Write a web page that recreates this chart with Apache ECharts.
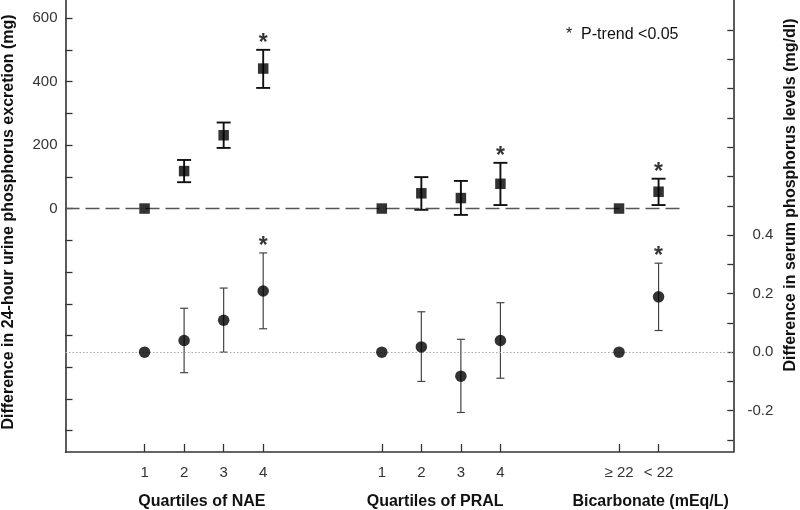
<!DOCTYPE html>
<html><head><meta charset="utf-8">
<script src="https://cdn.jsdelivr.net/npm/echarts@6/dist/echarts.min.js"></script>
<style>html,body{margin:0;padding:0;background:#fff}#c{width:800px;height:510px}</style>
</head><body><div id="c"></div>
<script>
// ---- data ----
const xTickLabels = ['1','2','3','4','1','2','3','4','\u2265 22','< 22'];
const xPositions  = [0,1,2,3, 6,7,8,9, 12,13];
const groupTitles = ['Quartiles of NAE','Quartiles of PRAL','Bicarbonate (mEq/L)'];
const groupCenters = [1.45, 7.35, 12.8];

const urineMean = [0,118,231,441, 0,48,33,78, 0,53];
const urineLow  = [null,83,191,380, null,-4,-20,11, null,11];
const urineHigh = [null,153,271,500, null,99,87,144, null,94];
const urineSig  = [0,0,0,1, 0,0,0,1, 0,1];

const serumMean = [0,0.040,0.109,0.209, 0,0.018,-0.082,0.040, 0,0.189];
const serumLow  = [null,-0.070,0.000,0.080, null,-0.100,-0.206,-0.089, null,0.074];
const serumHigh = [null,0.150,0.219,0.339, null,0.138,0.044,0.169, null,0.304];
const serumSig  = [0,0,0,1, 0,0,0,0, 0,1];

const leftTickValues  = [-700,-600,-500,-400,-300,-200,-100,0,100,200,300,400,500,600];
const leftLabelValues = [0,200,400,600];
const rightTickValues = [-0.3,-0.2,-0.1,0,0.1,0.2,0.3,0.4,0.5,0.6,0.7,0.8,0.9,1.0,1.1];
const rightLabelValues = [-0.2,0,0.2,0.4];
const urineRefLineEnd = 13.63;

// ---- build ----
const FONT = 'Liberation Sans, Arial, sans-serif';
const X_MIN = -2, X_MAX = 14.89;
function pts(m){ return xPositions.map((x,i)=>[x,m[i]]); }
function bars(lo,hi){ return xPositions.map((x,i)=>[x,lo[i],hi[i]]).filter(d=>d[1]!=null); }
function stars(hi,sig){ return xPositions.map((x,i)=>[x,hi[i]]).filter((d,i)=>sig[i]); }
function errRender(capW, color, lw){
  return function(params, api){
    const x = api.value(0), lo = api.value(1), hi = api.value(2);
    const a = api.coord([x, lo]), b = api.coord([x, hi]);
    const st = {stroke: color, lineWidth: lw};
    return {type:'group', children:[
      {type:'line', shape:{x1:a[0],y1:a[1],x2:b[0],y2:b[1]}, style:st},
      {type:'line', shape:{x1:a[0]-capW/2,y1:a[1],x2:a[0]+capW/2,y2:a[1]}, style:st},
      {type:'line', shape:{x1:b[0]-capW/2,y1:b[1],x2:b[0]+capW/2,y2:b[1]}, style:st}
    ]};
  };
}
const axisLineStyle = {color:'#333', width:1.6};
const starLabel = {show:true, position:'top', distance:-5, formatter:'*', fontSize:23, fontWeight:'bold', color:'#000', fontFamily:FONT};
const chart = echarts.init(document.getElementById('c'), null, {renderer:'canvas'});
chart.setOption({
  animation:false,
  backgroundColor:'#fff',
  grid:{left:65.5, right:66.7, top:0, bottom:56, containLabel:false},
  xAxis:[{
    type:'value', min:X_MIN, max:X_MAX, position:'bottom',
    axisLine:{show:true, lineStyle:axisLineStyle, onZero:false},
    axisTick:{show:true, inside:true, length:8, lineStyle:{color:'#333', width:1.3}, customValues:xPositions},
    axisLabel:{show:true, customValues:xPositions, margin:13, fontSize:15, color:'#333', fontFamily:FONT,
      formatter:v=>{const i=xPositions.indexOf(v); return i>=0?xTickLabels[i]:'';}},
    splitLine:{show:false}
  },{
    type:'value', min:X_MIN, max:X_MAX, position:'bottom',
    axisLine:{show:false}, axisTick:{show:false}, splitLine:{show:false},
    axisLabel:{show:true, customValues:groupCenters, margin:42, fontSize:16, fontWeight:'bold', color:'#111', fontFamily:FONT,
      formatter:v=>{const i=groupCenters.indexOf(v); return i>=0?groupTitles[i]:'';}}
  }],
  yAxis:[{
    type:'value', min:-767, max:657, position:'left',
    axisLine:{show:true, lineStyle:axisLineStyle, onZero:false},
    axisTick:{show:true, inside:true, length:7, lineStyle:{color:'#333', width:1.3}, customValues:leftTickValues},
    axisLabel:{show:true, customValues:leftLabelValues, margin:8, fontSize:15, color:'#333', fontFamily:FONT},
    splitLine:{show:false}
  },{
    type:'value', min:-0.341, max:1.203, position:'right',
    axisLine:{show:true, lineStyle:axisLineStyle, onZero:false},
    axisTick:{show:true, inside:true, length:6, lineStyle:{color:'#333', width:1.3}, customValues:rightTickValues},
    axisLabel:{show:true, customValues:rightLabelValues, margin:40, align:'right', fontSize:15, color:'#333', fontFamily:FONT,
      formatter:v=>v.toFixed(1)},
    splitLine:{show:false}
  }],
  series:[
    {type:'custom', xAxisIndex:0, yAxisIndex:0, renderItem:errRender(14,'#111',1.9), data:bars(urineLow,urineHigh), z:3, silent:true},
    {type:'custom', xAxisIndex:0, yAxisIndex:1, renderItem:errRender(8,'#444',1.2), data:bars(serumLow,serumHigh), z:3, silent:true},
    {type:'scatter', xAxisIndex:0, yAxisIndex:0, symbol:'rect', symbolSize:10.5, itemStyle:{color:'#000'}, data:pts(urineMean), z:5,
      markLine:{silent:true, symbol:'none', label:{show:false}, lineStyle:{type:[14,6], color:'#555', width:1.3},
        data:[[{coord:[X_MIN,0]},{coord:[urineRefLineEnd,0]}]]}},
    {type:'scatter', xAxisIndex:0, yAxisIndex:1, symbol:'circle', symbolSize:11.5, itemStyle:{color:'#000'}, data:pts(serumMean), z:5,
      markLine:{silent:true, symbol:'none', label:{show:false}, lineStyle:{type:[1.5,2], color:'#aaa', width:1},
        data:[{yAxis:0}]}},
    {type:'scatter', xAxisIndex:0, yAxisIndex:0, symbolSize:0, data:stars(urineHigh,urineSig), z:6, label:starLabel},
    {type:'scatter', xAxisIndex:0, yAxisIndex:1, symbolSize:0, data:stars(serumHigh,serumSig), z:6, label:starLabel}
  ],
  graphic:[
    {type:'text', x:9, y:222, rotation:Math.PI/2, style:{text:'Difference in 24-hour urine phosphorus excretion (mg)', font:'bold 16px '+FONT, fill:'#111', align:'center', verticalAlign:'middle'}},
    {type:'text', x:791, y:195, rotation:Math.PI/2, style:{text:'Difference in serum phosphorus levels (mg/dl)', font:'bold 16px '+FONT, fill:'#111', align:'center', verticalAlign:'middle'}},
    {type:'text', x:566, y:35, style:{text:'*  P-trend <0.05', font:'16px '+FONT, fill:'#111', align:'left', verticalAlign:'middle'}}
  ]
});
</script></body></html>
